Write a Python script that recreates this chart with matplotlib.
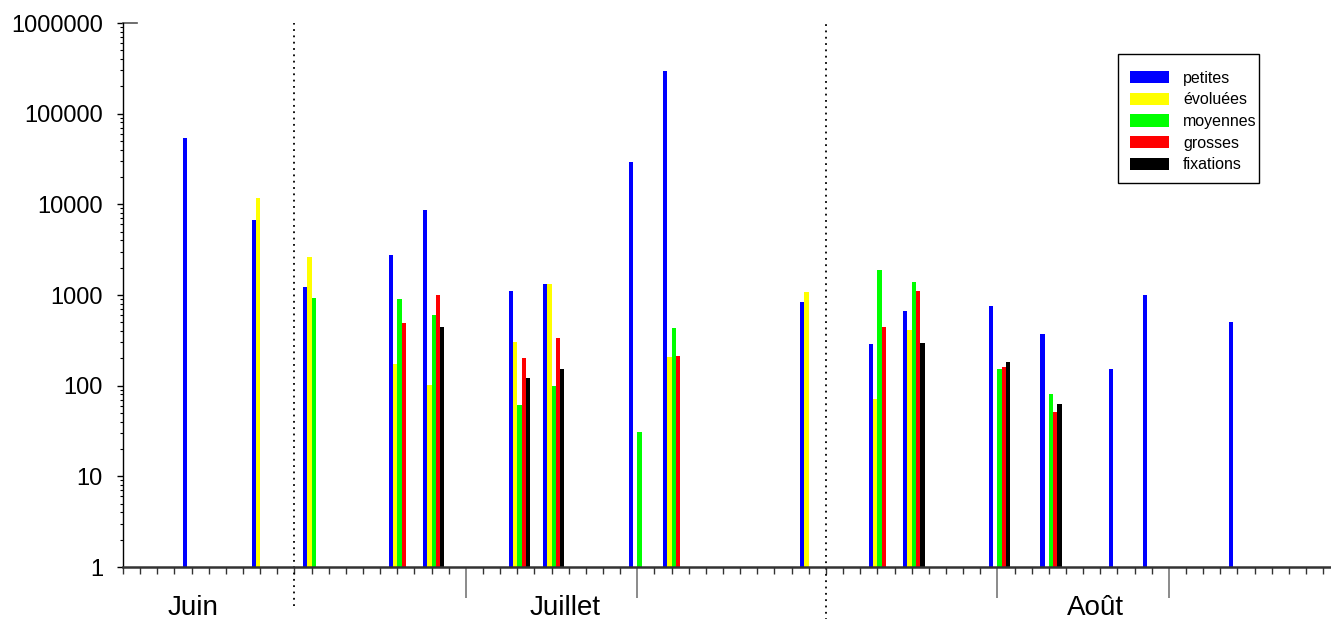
import numpy as np
import matplotlib
matplotlib.use("Agg")
import matplotlib.pyplot as plt
from matplotlib.patches import Rectangle
from matplotlib.ticker import FixedLocator, FuncFormatter, LogLocator, NullFormatter
from matplotlib.transforms import blended_transform_factory

plt.rcParams['font.family'] = ['Liberation Sans', 'DejaVu Sans']

nan = np.nan

# jours comptés depuis le 21 juin (0 = 21/06, 10 = 01/07, 41 = 01/08)
jours = [3, 7, 10, 15, 17, 22, 24, 29, 31, 39, 43, 45, 50, 53, 57, 59, 64]

petites = [53500, 6800, 1220, 2750, 8600, 1110, 1320, 29200, 295000, 830,
           285, 665, 755, 375, 153, 1010, 500]
evoluees = [nan, 11700, 2600, 175, 102, 303, 1320, nan, 205, 1080,
            71, 410, nan, nan, nan, nan, nan]
moyennes = [nan, nan, 930, 900, 600, 61, 100, 30.5, 430, nan,
            1880, 1390, 153, 81, nan, nan, nan]
grosses = [nan, nan, nan, 490, 1010, 204, 335, nan, 212, nan,
           440, 1100, 162, 51, nan, nan, nan]
fixations = [nan, nan, nan, nan, 444, 121, 152, nan, nan, nan,
             nan, 293, 182, 62, nan, nan, nan]

series = [petites, evoluees, moyennes, grosses, fixations]
noms = ["petites", "évoluées", "moyennes", "grosses", "fixations"]
couleurs = ["#0000ff", "#ffff00", "#00ff00", "#ff0000", "#000000"]

mois = ["Juin", "Juillet", "Août"]
mois_pos = [4.1, 25.8, 56.7]
limites_mois = [10, 41]
decades = [20, 30, 51, 61]

px = 72 / 100  # pixels -> points

fig = plt.figure(figsize=(13.31, 6.19), dpi=100)
ax = fig.add_axes([123 / 1331, 1 - 567 / 619, 1 - 123 / 1331, (567 - 23) / 619])

x = np.array(jours, dtype=float)
larg = 0.25
for k, (vals, nom, c) in enumerate(zip(series, noms, couleurs)):
    ax.bar(x + 0.5 + k * larg, vals, width=larg, align='edge', color=c,
           label=nom, log=True, linewidth=0)

ax.set_yscale('log')
ax.set_ylim(1, 1e6)
ax.set_xlim(0, 70.46)

# axe y
ax.yaxis.set_major_locator(FixedLocator([1, 10, 100, 1000, 1e4, 1e5, 1e6]))
ax.yaxis.set_major_formatter(FuncFormatter(lambda v, p: f"{int(round(v))}"))
ax.yaxis.set_minor_locator(LogLocator(base=10, subs=np.arange(2, 10)))
ax.yaxis.set_minor_formatter(NullFormatter())
ax.tick_params(axis='y', which='major', length=6 * px, width=1, labelsize=17, pad=14 * px)
ax.tick_params(axis='y', which='minor', length=3 * px, width=0.8)

# axe x : un tick par jour, grands ticks aux décades
ax.xaxis.set_minor_locator(FixedLocator(np.arange(0, 71)))
ax.xaxis.set_major_locator(FixedLocator(decades))
ax.xaxis.set_major_formatter(NullFormatter())
ax.tick_params(axis='x', which='minor', length=7 * px, width=1, color='#333333')
ax.tick_params(axis='x', which='major', length=31 * px, width=1.2, color='#777777')

for s in ['top', 'right']:
    ax.spines[s].set_visible(False)
ax.spines['bottom'].set_color('#333333')
ax.spines['bottom'].set_linewidth(1.8)
ax.spines['left'].set_linewidth(1)

trans = blended_transform_factory(ax.transData, ax.transAxes)
for xm, bas in zip(limites_mois, [-0.072, -0.1]):
    ax.plot([xm, xm], [bas, 1.0], transform=trans, color='black', lw=1.3,
            linestyle=(0, (1, 2.5)), clip_on=False)

for nom, xm in zip(mois, mois_pos):
    ax.text(xm, -0.075, nom, transform=trans, ha='center', va='center', fontsize=20)

# petit trait en haut de l'axe
ax.plot([0, 0.012], [1, 1], transform=ax.transAxes, color='#555555', lw=1.2, clip_on=False)

# légende (cadre dessiné à part)
leg = ax.legend(loc='upper left', bbox_to_anchor=(1120 / 1331, 1 - 61 / 619),
                bbox_transform=fig.transFigure, fontsize=11.5, frameon=False,
                borderpad=0.6, labelspacing=0.42,
                handlelength=2.45, handleheight=0.8, handletextpad=0.9,
                borderaxespad=0)
fig.add_artist(Rectangle((1118 / 1331, 1 - 183 / 619), 141 / 1331, 129 / 619,
                         transform=fig.transFigure, fill=False,
                         edgecolor='black', linewidth=1))

fig.savefig("out.png", dpi=100)
